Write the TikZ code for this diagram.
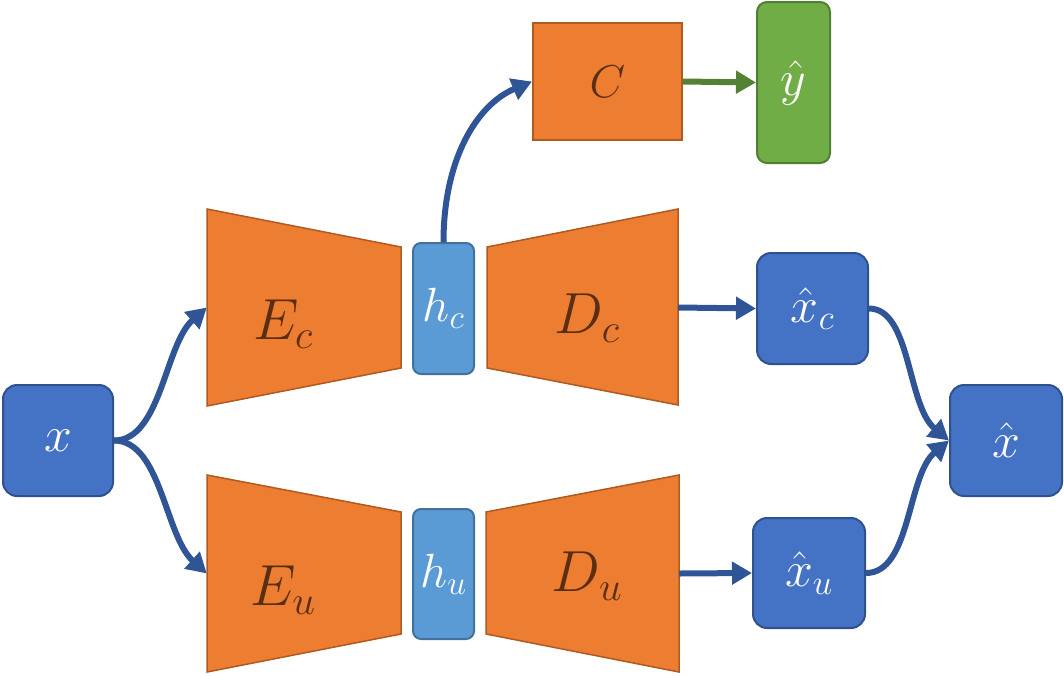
\documentclass[tikz,border=0pt]{standalone}
\usepackage{fix-cm}
\usetikzlibrary{arrows.meta}
\definecolor{orfill}{HTML}{ED7D31}
\definecolor{ordraw}{HTML}{AE5A21}
\definecolor{bfill}{HTML}{4472C4}
\definecolor{bdraw}{HTML}{2F528F}
\definecolor{lbfill}{HTML}{5B9BD5}
\definecolor{lbdraw}{HTML}{41719C}
\definecolor{gfill}{HTML}{70AD47}
\definecolor{gdraw}{HTML}{507E32}
\definecolor{arrblue}{HTML}{2F5597}
\definecolor{arrgreen}{HTML}{548235}
\definecolor{labcol}{HTML}{5A2E12}
\begin{document}
\begin{tikzpicture}[x=1pt,y=-1pt,
  bluebox/.style={draw=bdraw, fill=bfill, line width=2pt, rounded corners=14pt,
    text=white, font=\fontsize{50}{50}\selectfont, inner sep=0pt,
    minimum width=111pt, minimum height=111pt},
  codebox/.style={draw=lbdraw, fill=lbfill, line width=2pt, rounded corners=8pt,
    text=white, font=\fontsize{48}{48}\selectfont, inner sep=0pt,
    minimum width=61pt, minimum height=131pt},
  trap/.style={draw=ordraw, fill=orfill, line width=1.5pt, line join=miter},
  traplabel/.style={text=labcol, font=\fontsize{58}{58}\selectfont, inner sep=0pt},
  hidden/.style={inner sep=0pt, minimum width=194pt, minimum height=197pt},
  conn/.style={draw=arrblue, line width=6pt, -{Triangle[length=20pt,width=22pt]}},
  gconn/.style={draw=arrgreen, line width=6pt, -{Triangle[length=20pt,width=22pt]}}
]
\useasboundingbox (0,0) rectangle (1064,675);

% trapezoids
\draw[trap] (207,209) -- (401,247) -- (401,368) -- (207,406) -- cycle;
\draw[trap] (207,475) -- (401,512) -- (401,634) -- (207,672) -- cycle;
\draw[trap] (487,247) -- (678,209) -- (678,405) -- (487,368) -- cycle;
\draw[trap] (486,512) -- (679,475) -- (679,672) -- (486,634) -- cycle;

\node[hidden] (Ec) at (304,307.5) {};
\node[hidden] (Eu) at (304,573.5) {};
\node[hidden, minimum width=191pt] (Dc) at (582.5,307.5) {};
\node[hidden, minimum width=193pt] (Du) at (582.5,573.5) {};

\node[traplabel] (EcL) at (283,324) {$E_c$};
\node[traplabel] (EuL) at (283,590) {$E_u$};
\node[traplabel] (DcL) at (587,318) {$D_c$};
\node[traplabel] (DuL) at (587,576) {$D_u$};

% boxes
\node[bluebox, minimum width=110pt] (x) at (58,440.5) {$x$};
\node[codebox] (hc) at (443.5,308.5) {$h_c$};
\node[codebox, minimum height=130pt] (hu) at (443.5,574) {$h_u$};
\node[draw=ordraw, fill=orfill, line width=2pt, inner sep=0pt,
  minimum width=149pt, minimum height=117pt, text=labcol,
  font=\fontsize{46}{46}\selectfont] (C) at (607.5,81.5) {$C$};
\node[draw=gdraw, fill=gfill, line width=2pt, rounded corners=10pt, inner sep=0pt,
  minimum width=73pt, minimum height=161pt, text=white,
  font=\fontsize{50}{50}\selectfont] (y) at (793.5,82.5) {$\hat{y}$};
\node[bluebox] (xc) at (812.5,308.5) {$\hat{x}_c$};
\node[bluebox, minimum width=112pt, minimum height=110pt] (xu) at (809,573) {$\hat{x}_u$};
\node[bluebox, minimum width=112pt] (xh) at (1006,440.5) {$\hat{x}$};

% connectors
\draw[conn] (x.east) .. controls +(47,0) and +(-42,37) .. (Ec.west);
\draw[conn] (x.east) .. controls +(47,0) and +(-42,-38) .. (Eu.west);
\draw[conn] (hc.north) .. controls +(0,-83) and +(-55,23) .. (C.west);
\draw[gconn] (C.east) -- (y.west);
\draw[conn] (Dc.east) -- (xc.west);
\draw[conn] (Du.east) -- (xu.west);
\draw[conn] (xc.east) .. controls +(42,0) and +(-42,-35) .. (xh.west);
\draw[conn] (xu.east) .. controls +(45,0) and +(-42,35) .. (xh.west);
\end{tikzpicture}
\end{document}
